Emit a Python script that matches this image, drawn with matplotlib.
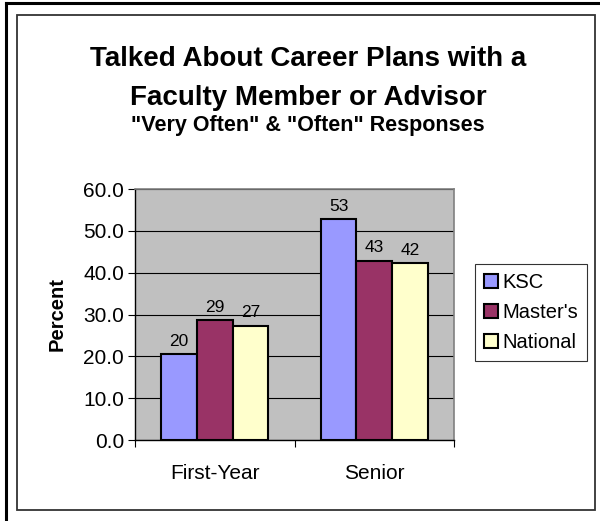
import numpy as np
import matplotlib.pyplot as plt
import matplotlib.patches as mpatches
from matplotlib.lines import Line2D

plt.rcParams['font.family'] = ['Liberation Sans', 'DejaVu Sans']

categories = ['First-Year', 'Senior']
series = ['KSC', "Master's", 'National']
ksc = [20.5, 52.8]
masters = [28.6, 42.8]
national = [27.3, 42.2]
labels_ksc = ['20', '53']
labels_masters = ['29', '43']
labels_national = ['27', '42']
colors = ['#9999FF', '#993366', '#FFFFCC']

fig = plt.figure(figsize=(6.0, 5.21), dpi=100)

# outer and inner frames
fig.add_artist(Line2D([6/600, 6/600], [0, 1 - 3/521], transform=fig.transFigure,
                      color='black', lw=2.2))
fig.add_artist(Line2D([6/600, 1], [1 - 3/521, 1 - 3/521], transform=fig.transFigure,
                      color='black', lw=2.2))
fig.add_artist(mpatches.Rectangle((17/600, 1 - 510/521), 578/600, 495/521,
                                  transform=fig.transFigure, fill=False,
                                  edgecolor='#333333', lw=1.3))

ax = fig.add_axes([135/600, 1 - 440/521, 319/600, 251/521])
ax.set_facecolor('#C0C0C0')

x = np.arange(len(categories))
w = 0.224
data = [ksc, masters, national]
labs = [labels_ksc, labels_masters, labels_national]
for i in range(3):
    bars = ax.bar(x + (i - 1) * w, data[i], w, color=colors[i], edgecolor='black',
                  linewidth=1.5, zorder=3, label=series[i])
    for b, t in zip(bars, labs[i]):
        ax.annotate(t, (b.get_x() + b.get_width() / 2, b.get_height()),
                    xytext=(0, 4), textcoords='offset points', ha='center',
                    va='bottom', fontsize=12.5, zorder=4)

ax.set_xlim(-0.5, 1.5)
ax.set_ylim(0, 60)
ax.set_yticks(np.arange(0, 61, 10))
ax.set_yticklabels(['%.1f' % v for v in np.arange(0, 61, 10)], fontsize=15)
ax.yaxis.grid(True, color='black', lw=0.8, zorder=1)
ax.set_axisbelow(True)

ax.set_xticks([-0.5, 0.5, 1.5])
ax.set_xticklabels([])
ax.set_xticks(x, minor=True)
ax.set_xticklabels(categories, minor=True, fontsize=15)
ax.tick_params(axis='x', which='minor', length=0, pad=17)
ax.tick_params(axis='x', which='major', length=5, direction='out')
ax.tick_params(axis='y', length=5, direction='out', pad=3)

for s in ['top', 'right']:
    ax.spines[s].set_color('#808080')
    ax.spines[s].set_linewidth(1.2)
for s in ['left', 'bottom']:
    ax.spines[s].set_color('black')
    ax.spines[s].set_linewidth(1.0)

ax.set_ylabel('Percent', fontsize=14.5, fontweight='bold', labelpad=12)

fig.text(308/600, 1 - 59/521, 'Talked About Career Plans with a', ha='center',
         va='center', fontsize=20, fontweight='bold')
fig.text(308/600, 1 - 98/521, 'Faculty Member or Advisor', ha='center',
         va='center', fontsize=20, fontweight='bold')
fig.text(308/600, 1 - 125/521, '"Very Often" & "Often" Responses', ha='center',
         va='center', fontsize=15.5, fontweight='bold')

handles = [mpatches.Patch(facecolor=c, edgecolor='black', lw=1.5, label=s)
           for c, s in zip(colors, series)]
leg = fig.legend(handles=handles, loc='upper left',
                 bbox_to_anchor=(475/600, 1 - 264/521), fontsize=14.5,
                 frameon=True, fancybox=False, edgecolor='black',
                 handlelength=0.7, handleheight=0.7, handletextpad=0.2,
                 labelspacing=0.55, borderpad=0.45, borderaxespad=0)
leg.get_frame().set_linewidth(0.8)

fig.savefig('out.png', dpi=100)
